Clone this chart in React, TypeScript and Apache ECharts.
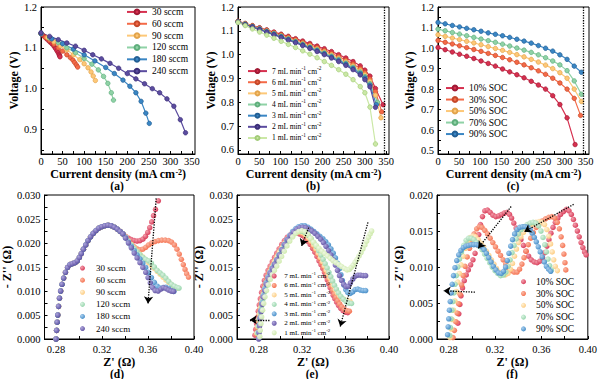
import React, { useEffect, useRef } from "react";
import * as echarts from "echarts";

const FONT = "Liberation Serif";

// ---------- colours ----------
const C = {
  crimson: ["#d6304f", "#f29aa8", "#a01a35"],
  orange: ["#f46a47", "#fbb5a0", "#c4482a"],
  lorange: ["#fdc878", "#fff0d2", "#e2a44c"],
  green: ["#8fd2a6", "#d8f2e0", "#5fae7c"],
  blue: ["#3a86c4", "#a6cdee", "#235f94"],
  purple: ["#5b4c9f", "#aca2da", "#3c2f78"],
  lgreen: ["#cbe8a6", "#f0f9e4", "#a2cb78"],
};

// ---------- (a) ----------
const aNames = ["30 sccm", "60 sccm", "90 sccm", "120 sccm", "180 sccm", "240 sccm"];
const a30 = [[0,1.135],[5,1.13],[10,1.125],[15,1.12],[20,1.115],[25,1.11],[30,1.104],[34,1.098],[37,1.093],[40,1.088],[42,1.084],[43,1.081],[44,1.078]];
const a60 = [[0,1.135],[10,1.126],[20,1.118],[30,1.109],[40,1.1],[50,1.092],[60,1.083],[68,1.076],[74,1.07],[78,1.064],[82,1.058],[85,1.053]];
const a90 = [[0,1.135],[15,1.125],[30,1.115],[45,1.105],[60,1.095],[75,1.083],[90,1.071],[100,1.061],[109,1.051],[116,1.041],[121,1.031],[126,1.02]];
const a120 = [[0,1.135],[20,1.124],[40,1.113],[60,1.1],[80,1.088],[100,1.074],[118,1.06],[133,1.046],[145,1.03],[155,1.013],[163,0.99],[168,0.972]];
const a180 = [[0,1.135],[25,1.122],[50,1.11],[75,1.097],[100,1.083],[125,1.068],[150,1.052],[170,1.037],[190,1.021],[206,1.006],[220,0.99],[232,0.969],[243,0.94],[251,0.915]];
const a240 = [[0,1.137],[20,1.128],[40,1.12],[60,1.112],[80,1.104],[100,1.094],[120,1.083],[140,1.073],[160,1.062],[180,1.05],[200,1.037],[220,1.024],[240,1.012],[258,1.0],[275,0.99],[292,0.975],[308,0.957],[323,0.924],[335,0.892]];

// ---------- (b) ----------
const bNames = ["7 mL min{s|-1} cm{s|-2}", "6 mL min{s|-1} cm{s|-2}", "5 mL min{s|-1} cm{s|-2}", "4 mL min{s|-1} cm{s|-2}", "3 mL min{s|-1} cm{s|-2}", "2 mL min{s|-1} cm{s|-2}", "1 mL min{s|-1} cm{s|-2}"];
const b7 = [[0,1.14],[17,1.131],[34,1.122],[51,1.113],[68,1.104],[85,1.095],[102,1.086],[119,1.077],[136,1.067],[153,1.057],[170,1.047],[187,1.036],[204,1.025],[221,1.013],[238,1.0],[255,0.986],[272,0.971],[289,0.953],[300,0.935],[312,0.91],[325,0.858],[343,0.79]];
const b6 = [[0,1.14],[17,1.13],[34,1.121],[51,1.111],[68,1.102],[85,1.092],[102,1.083],[119,1.073],[136,1.063],[153,1.052],[170,1.041],[187,1.03],[204,1.018],[221,1.005],[238,0.992],[255,0.977],[272,0.961],[289,0.942],[300,0.925],[312,0.898],[325,0.845],[340,0.76]];
const b5 = [[0,1.138],[17,1.129],[34,1.119],[51,1.109],[68,1.099],[85,1.089],[102,1.079],[119,1.069],[136,1.058],[153,1.047],[170,1.036],[187,1.024],[204,1.012],[221,0.999],[238,0.985],[255,0.97],[272,0.953],[289,0.934],[300,0.916],[312,0.888],[325,0.83],[338,0.735]];
const b4 = [[0,1.138],[17,1.128],[34,1.118],[51,1.108],[68,1.098],[85,1.088],[102,1.077],[119,1.066],[136,1.055],[153,1.044],[170,1.032],[187,1.02],[204,1.007],[221,0.994],[238,0.98],[255,0.964],[272,0.947],[289,0.927],[300,0.908],[312,0.878],[330,0.8]];
const b3 = [[0,1.137],[17,1.127],[34,1.117],[51,1.107],[68,1.096],[85,1.086],[102,1.075],[119,1.064],[136,1.053],[153,1.041],[170,1.029],[187,1.017],[204,1.004],[221,0.99],[238,0.976],[255,0.96],[272,0.942],[289,0.921],[300,0.902],[312,0.872],[327,0.79]];
const b2 = [[0,1.137],[17,1.126],[34,1.116],[51,1.105],[68,1.094],[85,1.083],[102,1.072],[119,1.061],[136,1.05],[153,1.038],[170,1.026],[187,1.013],[204,1.0],[221,0.986],[238,0.971],[255,0.955],[272,0.937],[289,0.915],[300,0.895],[312,0.865],[325,0.779]];
const b1 = [[0,1.135],[17,1.122],[34,1.108],[51,1.095],[68,1.082],[85,1.069],[102,1.056],[119,1.043],[136,1.03],[153,1.016],[170,1.002],[187,0.987],[204,0.971],[221,0.955],[238,0.937],[255,0.918],[272,0.895],[289,0.866],[300,0.84],[312,0.78],[325,0.625]];

// ---------- (c) ----------
const cNames = ["10% SOC", "30% SOC", "50% SOC", "70% SOC", "90% SOC"];
const c10 = [[0,1.003],[17,0.992],[34,0.981],[51,0.97],[68,0.96],[85,0.949],[102,0.937],[119,0.925],[136,0.912],[153,0.898],[170,0.884],[187,0.87],[204,0.855],[221,0.838],[238,0.82],[255,0.8],[272,0.768],[289,0.725],[306,0.66],[325,0.53]];
const c30 = [[0,1.037],[17,1.028],[34,1.02],[51,1.011],[68,1.002],[85,0.993],[102,0.984],[119,0.974],[136,0.964],[153,0.954],[170,0.943],[187,0.931],[204,0.918],[221,0.904],[238,0.889],[255,0.872],[272,0.853],[289,0.83],[306,0.8],[323,0.755],[338,0.672]];
const c50 = [[0,1.065],[17,1.057],[34,1.049],[51,1.041],[68,1.033],[85,1.025],[102,1.016],[119,1.007],[136,0.998],[153,0.989],[170,0.979],[187,0.968],[204,0.957],[221,0.945],[238,0.932],[255,0.917],[272,0.9],[289,0.88],[306,0.853],[323,0.8],[340,0.74]];
const c70 = [[0,1.092],[17,1.084],[34,1.076],[51,1.068],[68,1.06],[85,1.052],[102,1.044],[119,1.036],[136,1.028],[153,1.019],[170,1.01],[187,1.0],[204,0.99],[221,0.979],[238,0.967],[255,0.953],[272,0.937],[289,0.918],[306,0.89],[323,0.84],[340,0.775]];
const c90 = [[0,1.125],[17,1.118],[34,1.11],[51,1.103],[68,1.096],[85,1.089],[102,1.082],[119,1.074],[136,1.067],[153,1.06],[170,1.052],[187,1.043],[204,1.034],[221,1.024],[238,1.012],[255,0.999],[272,0.985],[289,0.967],[306,0.945],[323,0.912],[340,0.882]];
const maxCurrentLine = 345;

// ---------- (d) ----------
const dFront = [[0.28,0.0],[0.2805,0.0018],[0.281,0.0035],[0.2815,0.005],[0.2822,0.0068],[0.283,0.0085],[0.284,0.01],[0.2852,0.0114],[0.2866,0.0127],[0.2882,0.0139],[0.29,0.0149],[0.292,0.0155],[0.2942,0.0157],[0.2965,0.0159],[0.2985,0.0163],[0.3003,0.017],[0.302,0.0178],[0.3038,0.0187],[0.3058,0.0196],[0.3078,0.0205],[0.31,0.0213],[0.3123,0.022],[0.3147,0.0226],[0.3172,0.0231],[0.3198,0.0234],[0.3225,0.0236],[0.3252,0.0237],[0.328,0.0236],[0.3307,0.0233],[0.3333,0.0229],[0.3358,0.0224],[0.3382,0.0219]];
const d30Tail = [[0.3405,0.0214],[0.343,0.021],[0.3455,0.0207],[0.348,0.0205],[0.3505,0.0204],[0.353,0.0205],[0.3555,0.0208],[0.3578,0.0214],[0.3598,0.0222],[0.3615,0.0232],[0.3632,0.0244],[0.3648,0.0257],[0.3665,0.027],[0.369,0.0288]];
const d60Tail = [[0.3405,0.0212],[0.343,0.0205],[0.3455,0.0198],[0.348,0.0192],[0.3505,0.0188],[0.353,0.0186],[0.3555,0.0187],[0.358,0.0191],[0.3605,0.0196],[0.3632,0.02],[0.366,0.0203],[0.369,0.0205],[0.372,0.0206],[0.375,0.0206],[0.378,0.0205],[0.3805,0.0202],[0.383,0.0196],[0.3852,0.0187],[0.3872,0.0177],[0.389,0.0166],[0.3907,0.0155],[0.3922,0.0145],[0.3936,0.0136],[0.3952,0.0129]];
const d90Tail = [[0.3405,0.0212],[0.343,0.0204],[0.3455,0.0197],[0.348,0.019],[0.3505,0.0183],[0.353,0.0177],[0.3555,0.0171],[0.358,0.0165],[0.3605,0.0159],[0.363,0.0153],[0.3655,0.0147],[0.368,0.0141],[0.3705,0.0135],[0.373,0.0129],[0.3755,0.0123],[0.378,0.0118],[0.3805,0.0113],[0.383,0.0109],[0.3855,0.0106]];
const d120Tail = [[0.3405,0.0212],[0.343,0.0204],[0.3455,0.0196],[0.348,0.0189],[0.3505,0.0182],[0.353,0.0176],[0.3555,0.017],[0.358,0.0166],[0.3605,0.0163],[0.363,0.0158],[0.3655,0.015],[0.368,0.0143],[0.3705,0.0138],[0.373,0.0133],[0.3755,0.0127],[0.378,0.012],[0.3805,0.0114],[0.383,0.011],[0.3855,0.0107],[0.387,0.0106]];
const d180Tail = [[0.3405,0.0211],[0.343,0.0202],[0.3455,0.0193],[0.348,0.0184],[0.3505,0.0175],[0.353,0.0167],[0.3555,0.0158],[0.358,0.0149],[0.3605,0.0139],[0.363,0.0128],[0.3655,0.0118],[0.368,0.011],[0.3705,0.0106],[0.373,0.0107],[0.3755,0.0108],[0.378,0.0105],[0.3805,0.0101],[0.3825,0.0099]];
const d240Tail = [[0.3405,0.021],[0.343,0.02],[0.3455,0.019],[0.348,0.0179],[0.3505,0.0169],[0.353,0.0159],[0.3555,0.0149],[0.358,0.0139],[0.36,0.0128],[0.362,0.0117],[0.364,0.0107],[0.3662,0.0101],[0.3688,0.01],[0.3712,0.0104],[0.3735,0.0107],[0.3758,0.0105],[0.378,0.0102],[0.3802,0.01],[0.3822,0.0099]];
const dArrows = [[[0.3671, 0.0293], [0.36, 0.0074]]];

// ---------- (e) ----------
const e7 = [[0.2765,0.0008],[0.2772,0.002],[0.278,0.0032],[0.2788,0.0045],[0.2796,0.0058],[0.2805,0.0071],[0.2815,0.0084],[0.2826,0.0097],[0.2838,0.011],[0.2852,0.0122],[0.2868,0.0133],[0.2886,0.0143],[0.2905,0.0152],[0.2925,0.0161],[0.2945,0.017],[0.2966,0.0179],[0.2988,0.0188],[0.3012,0.0197],[0.3037,0.0205],[0.3063,0.0212],[0.309,0.0217],[0.3118,0.022],[0.3146,0.0221],[0.3174,0.0219],[0.32,0.0216],[0.3225,0.0211],[0.325,0.0204],[0.3274,0.0197],[0.3296,0.0189],[0.3316,0.0181],[0.3336,0.0172],[0.3355,0.0163],[0.3373,0.0155],[0.339,0.0147],[0.3405,0.0139],[0.3419,0.0131],[0.3432,0.0123],[0.3445,0.0115],[0.3458,0.0107],[0.3472,0.0099],[0.3486,0.0091],[0.3501,0.0084],[0.3517,0.0077],[0.3535,0.007],[0.3555,0.0064],[0.3577,0.0059],[0.36,0.0056],[0.362,0.0055]];
const e6 = [[0.2778,0.001],[0.2785,0.0023],[0.2793,0.0036],[0.2801,0.0049],[0.281,0.0062],[0.282,0.0075],[0.2831,0.0088],[0.2843,0.0101],[0.2857,0.0114],[0.2872,0.0126],[0.2889,0.0137],[0.2907,0.0147],[0.2927,0.0156],[0.2947,0.0165],[0.2968,0.0174],[0.299,0.0183],[0.3013,0.0192],[0.3037,0.02],[0.3063,0.0208],[0.309,0.0214],[0.3118,0.0219],[0.3146,0.0222],[0.3174,0.0222],[0.3202,0.022],[0.3228,0.0215],[0.3253,0.0209],[0.3277,0.0202],[0.33,0.0194],[0.3321,0.0186],[0.3341,0.0177],[0.336,0.0168],[0.3378,0.0159],[0.3395,0.0151],[0.3411,0.0142],[0.3426,0.0134],[0.344,0.0126],[0.3454,0.0118],[0.3468,0.011],[0.3482,0.0102],[0.3497,0.0094],[0.3512,0.0087],[0.3528,0.008],[0.3546,0.0073],[0.3566,0.0067],[0.3588,0.0062],[0.3612,0.0059],[0.3635,0.0058]];
const e5 = [[0.2783,0.0012],[0.2791,0.0026],[0.2799,0.004],[0.2808,0.0053],[0.2818,0.0066],[0.2829,0.008],[0.2841,0.0093],[0.2855,0.0106],[0.287,0.0118],[0.2887,0.013],[0.2905,0.0141],[0.2925,0.0151],[0.2946,0.0161],[0.2968,0.0171],[0.2991,0.0181],[0.3015,0.019],[0.304,0.0199],[0.3066,0.0207],[0.3093,0.0214],[0.3121,0.0219],[0.315,0.0222],[0.3178,0.0223],[0.3206,0.0221],[0.3233,0.0217],[0.3259,0.0211],[0.3284,0.0204],[0.3307,0.0196],[0.3329,0.0188],[0.335,0.0179],[0.337,0.017],[0.3389,0.0161],[0.3407,0.0152],[0.3424,0.0143],[0.344,0.0135],[0.3456,0.0127],[0.3472,0.0119],[0.3488,0.0111],[0.3505,0.0103],[0.3523,0.0096],[0.3543,0.009],[0.3565,0.0085],[0.359,0.0082],[0.3615,0.008],[0.364,0.0079]];
const e4 = [[0.2788,0.0013],[0.2796,0.0027],[0.2805,0.0041],[0.2815,0.0055],[0.2826,0.0069],[0.2838,0.0083],[0.2851,0.0097],[0.2866,0.011],[0.2882,0.0122],[0.29,0.0134],[0.2919,0.0145],[0.294,0.0155],[0.2962,0.0165],[0.2985,0.0175],[0.3009,0.0185],[0.3034,0.0194],[0.306,0.0203],[0.3087,0.0211],[0.3115,0.0217],[0.3144,0.0222],[0.3173,0.0224],[0.3202,0.0224],[0.323,0.0221],[0.3257,0.0216],[0.3283,0.0209],[0.3307,0.0201],[0.333,0.0193],[0.3352,0.0184],[0.3373,0.0175],[0.3393,0.0166],[0.3412,0.0157],[0.343,0.0148],[0.3447,0.0139],[0.3464,0.013],[0.3481,0.0121],[0.3498,0.0112],[0.3516,0.0104],[0.3535,0.0096],[0.3556,0.0089],[0.358,0.0083],[0.3605,0.0078],[0.363,0.0075],[0.3655,0.0074]];
const e3 = [[0.28,0.0002],[0.2802,0.0015],[0.2807,0.003],[0.2813,0.0045],[0.282,0.006],[0.2829,0.0075],[0.284,0.009],[0.2853,0.0104],[0.2868,0.0117],[0.2885,0.0129],[0.2904,0.0139],[0.2924,0.0148],[0.2944,0.0156],[0.2965,0.0165],[0.2987,0.0175],[0.301,0.0186],[0.3034,0.0197],[0.3059,0.0207],[0.3085,0.0216],[0.3112,0.0224],[0.314,0.023],[0.3168,0.0234],[0.3196,0.0236],[0.3224,0.0236],[0.3252,0.0233],[0.328,0.0229],[0.3308,0.0224],[0.3336,0.0219],[0.3364,0.0214],[0.3391,0.0209],[0.3417,0.0203],[0.3442,0.0196],[0.3465,0.0188],[0.3487,0.0179],[0.3507,0.0169],[0.3525,0.0158],[0.3542,0.0146],[0.3557,0.0134],[0.3571,0.0122],[0.3585,0.0112],[0.3601,0.0103],[0.362,0.0097],[0.3642,0.0095],[0.3665,0.0098],[0.3688,0.0103],[0.3712,0.0104],[0.3737,0.0102],[0.3762,0.0101],[0.3785,0.0101]];
const e2 = [[0.28,0.0],[0.2803,0.0013],[0.2808,0.0027],[0.2814,0.0042],[0.2822,0.0057],[0.2831,0.0072],[0.2842,0.0087],[0.2855,0.0101],[0.287,0.0114],[0.2887,0.0126],[0.2906,0.0137],[0.2926,0.0147],[0.2947,0.0156],[0.2969,0.0165],[0.2992,0.0175],[0.3016,0.0186],[0.3041,0.0197],[0.3067,0.0207],[0.3094,0.0216],[0.3122,0.0223],[0.315,0.0229],[0.3178,0.0232],[0.3206,0.0233],[0.3234,0.0232],[0.3262,0.0229],[0.329,0.0225],[0.3318,0.022],[0.3345,0.0214],[0.3371,0.0208],[0.3396,0.0201],[0.342,0.0193],[0.3443,0.0184],[0.3465,0.0175],[0.3486,0.0165],[0.3506,0.0154],[0.3525,0.0143],[0.3544,0.0132],[0.3563,0.0122],[0.3583,0.0114],[0.3604,0.0109],[0.3625,0.011],[0.3645,0.0117],[0.3667,0.0125],[0.369,0.0131],[0.3714,0.0133],[0.3738,0.0133],[0.3762,0.0132],[0.3785,0.0132]];
const e1 = [[0.281,0.0005],[0.2814,0.0018],[0.282,0.0032],[0.2827,0.0046],[0.2836,0.006],[0.2846,0.0074],[0.2858,0.0088],[0.2872,0.0101],[0.2888,0.0113],[0.2906,0.0124],[0.2925,0.0134],[0.2945,0.0143],[0.2966,0.0152],[0.2988,0.0162],[0.3011,0.0172],[0.3035,0.0183],[0.306,0.0194],[0.3086,0.0204],[0.3113,0.0213],[0.3141,0.022],[0.3169,0.0224],[0.3197,0.0226],[0.3225,0.0224],[0.3252,0.0218],[0.3278,0.021],[0.3304,0.0202],[0.333,0.0195],[0.3356,0.0189],[0.3382,0.0183],[0.3408,0.0178],[0.3434,0.0173],[0.346,0.0168],[0.3486,0.0163],[0.3512,0.0159],[0.3538,0.0155],[0.3564,0.0151],[0.359,0.0147],[0.3614,0.0144],[0.3634,0.0145],[0.3652,0.0149],[0.367,0.0154],[0.3688,0.016],[0.3706,0.0166],[0.3724,0.0173],[0.3742,0.018],[0.376,0.0188],[0.3778,0.0196],[0.3795,0.0204],[0.3811,0.0212],[0.3826,0.0219],[0.384,0.0225]];
const eArrows = [
  [[0.326, 0.0232], [0.3195, 0.0194]],
  [[0.3806, 0.0243], [0.3551, 0.0026]],
  [[0.2899, 0.004], [0.2718, 0.004]],
];

// ---------- (f) ----------
const f10 = [[0.288,0.0022],[0.2888,0.0035],[0.2897,0.0048],[0.2907,0.006],[0.292,0.0071],[0.2935,0.0081],[0.2952,0.0089],[0.297,0.0096],[0.299,0.0103],[0.301,0.011],[0.3028,0.0119],[0.3045,0.0131],[0.306,0.0145],[0.3075,0.0159],[0.3092,0.017],[0.3112,0.0178],[0.3135,0.0179],[0.3158,0.0176],[0.3182,0.0172],[0.3207,0.017],[0.3232,0.0171],[0.3257,0.0173],[0.3282,0.0175],[0.3305,0.0176],[0.3325,0.0173],[0.3343,0.0168],[0.3362,0.0161],[0.3382,0.0154],[0.3402,0.0146],[0.3423,0.0138],[0.3445,0.013],[0.3467,0.0122],[0.349,0.0115],[0.3513,0.011],[0.3538,0.0107],[0.3563,0.0106],[0.3587,0.0108],[0.361,0.0113],[0.363,0.012],[0.3648,0.0129],[0.3665,0.0138],[0.3682,0.0147],[0.37,0.0155],[0.372,0.0162],[0.3742,0.0168],[0.3765,0.0173],[0.379,0.0177],[0.3815,0.018],[0.3838,0.0178],[0.3858,0.0173],[0.3876,0.0166],[0.3893,0.0158],[0.391,0.015],[0.3926,0.0142],[0.3942,0.0134],[0.3957,0.0127],[0.3972,0.0121],[0.3985,0.0117]];
const f30 = [[0.2838,0.0002],[0.285,0.0012],[0.2862,0.0024],[0.2874,0.0036],[0.2886,0.0049],[0.2899,0.0062],[0.2912,0.0075],[0.2926,0.0088],[0.2942,0.0101],[0.296,0.0114],[0.298,0.0126],[0.3,0.0137],[0.302,0.0146],[0.3042,0.0153],[0.3065,0.0156],[0.3088,0.0155],[0.3112,0.0151],[0.3135,0.0146],[0.3158,0.014],[0.3181,0.0134],[0.3204,0.0128],[0.3226,0.0122],[0.3248,0.0116],[0.327,0.011],[0.3292,0.0104],[0.3315,0.0099],[0.334,0.0095],[0.3365,0.0093],[0.339,0.0093],[0.3412,0.0097],[0.3432,0.0104],[0.345,0.0113],[0.3468,0.0122],[0.3487,0.0131],[0.3508,0.014],[0.353,0.0148],[0.3555,0.0155],[0.358,0.016],[0.3607,0.0164],[0.3635,0.0167],[0.3663,0.0169],[0.369,0.017],[0.3715,0.0168],[0.3737,0.0162],[0.3755,0.0153],[0.377,0.0142],[0.3783,0.013],[0.3794,0.0118],[0.3803,0.0106],[0.381,0.0096]];
const f50 = [[0.2812,0.0002],[0.2822,0.0014],[0.2832,0.0027],[0.2843,0.004],[0.2854,0.0053],[0.2866,0.0066],[0.2879,0.0079],[0.2893,0.0091],[0.2908,0.0103],[0.2925,0.0115],[0.2944,0.0126],[0.2965,0.0135],[0.2987,0.0141],[0.301,0.0143],[0.3033,0.0142],[0.3056,0.0138],[0.3079,0.0133],[0.3102,0.0128],[0.3125,0.0122],[0.3147,0.0116],[0.3169,0.011],[0.3191,0.0104],[0.3213,0.0098],[0.3237,0.0093],[0.3262,0.009],[0.3288,0.0089],[0.3312,0.0091],[0.3333,0.0097],[0.3351,0.0105],[0.3368,0.0115],[0.3385,0.0125],[0.3403,0.0134],[0.3423,0.0142],[0.3445,0.0148],[0.347,0.0153],[0.3497,0.0157],[0.3525,0.016],[0.3553,0.0162],[0.358,0.0163],[0.3605,0.0162],[0.3627,0.0159],[0.3647,0.0152],[0.3664,0.0143],[0.3679,0.0132],[0.3693,0.0121],[0.3706,0.011],[0.372,0.0101],[0.3738,0.0095]];
const f70 = [[0.281,0.0005],[0.2815,0.0016],[0.2821,0.0028],[0.2828,0.004],[0.2836,0.0052],[0.2845,0.0064],[0.2855,0.0076],[0.2866,0.0088],[0.2879,0.01],[0.2894,0.0111],[0.2911,0.0121],[0.293,0.013],[0.2951,0.0137],[0.2973,0.014],[0.2996,0.014],[0.3019,0.0138],[0.3042,0.0134],[0.3065,0.0129],[0.3088,0.0124],[0.311,0.0118],[0.3132,0.0112],[0.3154,0.0106],[0.3176,0.01],[0.3199,0.0095],[0.3223,0.0091],[0.3248,0.0088],[0.3272,0.0089],[0.3294,0.0093],[0.3313,0.0101],[0.333,0.011],[0.3347,0.012],[0.3364,0.013],[0.3382,0.0139],[0.3402,0.0146],[0.3425,0.0152],[0.345,0.0156],[0.3476,0.0159],[0.3502,0.0161],[0.3528,0.0162],[0.3553,0.0161],[0.3576,0.0157],[0.3596,0.015],[0.3614,0.0141],[0.3629,0.0131],[0.3643,0.0121],[0.3657,0.0111],[0.3671,0.0102],[0.3686,0.0096]];
const f90 = [[0.2791,0.0006],[0.2796,0.0017],[0.2801,0.0028],[0.2807,0.004],[0.2814,0.0052],[0.2822,0.0064],[0.2831,0.0076],[0.2842,0.0088],[0.2855,0.0099],[0.287,0.0109],[0.2887,0.0117],[0.2906,0.0123],[0.2927,0.0127],[0.2949,0.0129],[0.2972,0.013],[0.2995,0.0131],[0.3018,0.0131],[0.3041,0.0131],[0.3063,0.013],[0.3085,0.0128],[0.3106,0.0124],[0.3126,0.0119],[0.3146,0.0113],[0.3166,0.0107],[0.3186,0.0101],[0.3208,0.0096],[0.3231,0.0092],[0.3254,0.0091],[0.3274,0.0094],[0.3291,0.01],[0.3306,0.0109],[0.332,0.0119],[0.3335,0.0129],[0.3351,0.0138],[0.3369,0.0146],[0.339,0.0152],[0.3413,0.0155],[0.3437,0.0156],[0.346,0.0156],[0.3482,0.0155],[0.3502,0.0152],[0.3521,0.0147],[0.3539,0.0141],[0.3556,0.0135],[0.3573,0.0128],[0.359,0.0121],[0.3607,0.0114],[0.3625,0.0107],[0.3643,0.0101],[0.3662,0.0097],[0.368,0.0094]];
const fArrows = [
  [[0.3339, 0.0184], [0.3055, 0.0126]],
  [[0.3878, 0.0187], [0.3453, 0.0149]],
  [[0.3027, 0.0065], [0.2757, 0.0067]],
];

// ---------- ticks ----------
const topXLabels = [0, 50, 100, 150, 200, 250, 300, 350];
const topXTicks = [0, 25, 50, 75, 100, 125, 150, 175, 200, 225, 250, 275, 300, 325, 350];
const aYLabels = [0.9, 1.0, 1.1, 1.2];
const aYTicks = [0.85, 0.9, 0.95, 1.0, 1.05, 1.1, 1.15, 1.2];
const bYLabels = [0.6, 0.7, 0.8, 0.9, 1.0, 1.1, 1.2];
const bYTicks = [0.6, 0.65, 0.7, 0.75, 0.8, 0.85, 0.9, 0.95, 1.0, 1.05, 1.1, 1.15, 1.2];
const cYLabels = [0.5, 0.6, 0.7, 0.8, 0.9, 1.0, 1.1, 1.2];
const cYTicks = [0.5, 0.55, 0.6, 0.65, 0.7, 0.75, 0.8, 0.85, 0.9, 0.95, 1.0, 1.05, 1.1, 1.15, 1.2];
const zXLabels = [0.28, 0.32, 0.36, 0.4];
const zXTicks = [0.28, 0.3, 0.32, 0.34, 0.36, 0.38, 0.4];
const dYLabels = [0, 0.005, 0.01, 0.015, 0.02, 0.025, 0.03];
const dYTicks = [0, 0.0025, 0.005, 0.0075, 0.01, 0.0125, 0.015, 0.0175, 0.02, 0.0225, 0.025, 0.0275, 0.03];
const fYLabels = [0, 0.005, 0.01, 0.015, 0.02];
const fYTicks = [0, 0.0025, 0.005, 0.0075, 0.01, 0.0125, 0.015, 0.0175, 0.02];

const NAME_X = 12;
const NAME_Y = 12;
const supRich = {
  s: { fontFamily: FONT, fontSize: 8, fontWeight: "bold", color: "#000", verticalAlign: "top", lineHeight: 9 },
};

function xAx(gi: number, min: number, max: number, labels: number[], ticks: number[], fmt: (v: number) => string, name: string, nameGap: number, margin: number) {
  return {
    type: "value", gridIndex: gi, min, max,
    axisLine: { show: true, onZero: false, lineStyle: { color: "#000", width: 1 } },
    axisTick: { show: true, inside: true, length: 3, customValues: ticks, lineStyle: { color: "#000", width: 1 } },
    axisLabel: { show: true, customValues: labels, formatter: fmt, fontFamily: FONT, fontSize: 10.5, color: "#000", margin },
    splitLine: { show: false },
    name, nameLocation: "middle", nameGap,
    nameTextStyle: { fontFamily: FONT, fontSize: NAME_X, fontWeight: "bold", color: "#000", lineHeight: 10, rich: supRich },
  };
}
function yAx(gi: number, min: number, max: number, labels: number[], ticks: number[], fmt: (v: number) => string, name: string, nameGap: number) {
  return {
    type: "value", gridIndex: gi, min, max,
    axisLine: { show: true, onZero: false, lineStyle: { color: "#000", width: 1 } },
    axisTick: { show: true, inside: true, length: 3, customValues: ticks, lineStyle: { color: "#000", width: 1 } },
    axisLabel: { show: true, customValues: labels, formatter: fmt, fontFamily: FONT, fontSize: 10.5, color: "#000", margin: 4 },
    splitLine: { show: false },
    name, nameLocation: "middle", nameGap,
    nameTextStyle: { fontFamily: FONT, fontSize: NAME_Y, fontWeight: "bold", color: "#000" },
  };
}

const SEP = "#";
function lineSeries(prefix: string, name: string, gi: number, data: number[][], col: string[]) {
  return {
    type: "line", name: prefix + SEP + name, xAxisIndex: gi, yAxisIndex: gi, data,
    symbol: "circle", symbolSize: 4.5, showSymbol: true,
    lineStyle: { color: col[0], width: 1.2 },
    itemStyle: { color: col[0], borderColor: col[2], borderWidth: 0.7 },
    emphasis: { disabled: true },
  };
}
function dotSeries(prefix: string, name: string, gi: number, data: number[][], col: string[]) {
  return {
    type: "scatter", name: prefix + SEP + name, xAxisIndex: gi, yAxisIndex: gi, data,
    symbol: "circle", symbolSize: 5.5,
    itemStyle: {
      color: { type: "radial", x: 0.35, y: 0.35, r: 0.7, colorStops: [{ offset: 0, color: col[1] }, { offset: 1, color: col[0] }] },
      opacity: 0.95,
    },
    emphasis: { disabled: true },
  };
}
function arrowSeries(gi: number, arrows: number[][][]) {
  return {
    type: "line", name: "arrows" + gi, xAxisIndex: gi, yAxisIndex: gi, data: [arrows[0][0]],
    symbol: "none", lineStyle: { width: 0 }, silent: true,
    markLine: {
      silent: true, symbol: ["none", "arrow"], symbolSize: 7,
      label: { show: false },
      lineStyle: { type: "dotted", color: "#000", width: 1.3 },
      emphasis: { disabled: true },
      data: arrows.map((a) => [{ coord: a[0] }, { coord: a[1] }]),
    },
  };
}
function vLineSeries(gi: number, x: number) {
  return {
    type: "line", name: "vline" + gi, xAxisIndex: gi, yAxisIndex: gi, data: [],
    symbol: "none", silent: true,
    markLine: {
      silent: true, symbol: ["none", "none"], label: { show: false },
      lineStyle: { type: "dotted", color: "#000", width: 1.3 },
      emphasis: { disabled: true },
      data: [{ xAxis: x }],
    },
  };
}

const legendFmt = (n: string) => n.split(SEP)[1];
function legendCfg(prefix: string, names: string[], left: number, top: number, w: number, h: number, fontSize: number, lh: number, icon?: string) {
  return {
    show: true, orient: "vertical", left, top, padding: 0, itemGap: 0,
    itemWidth: w, itemHeight: h, selectedMode: false, icon,
    data: names.map((n) => prefix + SEP + n),
    formatter: legendFmt,
    textStyle: { fontFamily: FONT, fontSize, color: "#000", lineHeight: lh, rich: { s: { fontFamily: FONT, fontSize: fontSize * 0.7, color: "#000", verticalAlign: "top", lineHeight: lh - 2 } } },
  };
}

export default function App() {
  const ref = useRef<HTMLDivElement>(null);
  useEffect(() => {
    if (!ref.current) return;
    const chart = echarts.init(ref.current, undefined, { renderer: "svg" });
    const f1 = (v: number) => v.toFixed(1);
    const f0 = (v: number) => String(Math.round(v));
    const f2 = (v: number) => v.toFixed(2);
    const f3 = (v: number) => v.toFixed(3);
    const cdName = "Current density (mA cm{s|-2})";
    const zName = "Z' (Ω)";
    const zzName = "- Z'' (Ω)";
    const colA = [C.crimson, C.orange, C.lorange, C.green, C.blue, C.purple];
    const colB = [C.crimson, C.orange, C.lorange, C.green, C.blue, C.purple, C.lgreen];
    const colC = [C.crimson, C.orange, C.lorange, C.green, C.blue];
    const aData = [a30, a60, a90, a120, a180, a240];
    const bData = [b7, b6, b5, b4, b3, b2, b1];
    const cData = [c10, c30, c50, c70, c90];
    const dData = [d30Tail, d60Tail, d90Tail, d120Tail, d180Tail, d240Tail].map((t) => dFront.concat(t));
    const eData = [e7, e6, e5, e4, e3, e2, e1];
    const fData = [f10, f30, f50, f70, f90];

    const series: any[] = [];
    aNames.forEach((n, i) => series.push(lineSeries("a", n, 0, aData[i], colA[i])));
    bNames.forEach((n, i) => series.push(lineSeries("b", n, 1, bData[i], colB[i])));
    series.push(vLineSeries(1, maxCurrentLine));
    cNames.forEach((n, i) => series.push(lineSeries("c", n, 2, cData[i], colC[i])));
    series.push(vLineSeries(2, maxCurrentLine));
    aNames.forEach((n, i) => series.push(dotSeries("d", n, 3, dData[i], colA[i])));
    series.push(arrowSeries(3, dArrows));
    bNames.forEach((n, i) => series.push(dotSeries("e", n, 4, eData[i], colB[i])));
    series.push(arrowSeries(4, eArrows));
    cNames.forEach((n, i) => series.push(dotSeries("f", n, 5, fData[i], colC[i])));
    series.push(arrowSeries(5, fArrows));

    const gridStyle = { show: true, borderColor: "#000", borderWidth: 1, containLabel: false };
    const panelLabel = (t: string, x: number, y: number) => ({
      type: "text", x, y, silent: true,
      style: { text: t, fontFamily: FONT, fontSize: 11.5, fontWeight: "bold", fill: "#000", align: "center", verticalAlign: "middle" },
    });

    chart.setOption({
      animation: false,
      backgroundColor: "#fff",
      grid: [
        { ...gridStyle, left: 41, top: 7, width: 154, height: 147 },
        { ...gridStyle, left: 238, top: 7, width: 151, height: 147 },
        { ...gridStyle, left: 438, top: 7, width: 151, height: 147 },
        { ...gridStyle, left: 42, top: 195, width: 152, height: 144 },
        { ...gridStyle, left: 237, top: 195, width: 152, height: 144 },
        { ...gridStyle, left: 437, top: 195, width: 152, height: 144 },
      ],
      xAxis: [
        xAx(0, 0, 357, topXLabels, topXTicks, f0, cdName, 11, 2),
        xAx(1, 0, 357, topXLabels, topXTicks, f0, cdName, 11, 2),
        xAx(2, 0, 358, topXLabels, topXTicks, f0, cdName, 11, 2),
        xAx(3, 0.27, 0.4, zXLabels, zXTicks, f2, zName, 14, 5),
        xAx(4, 0.26, 0.4, zXLabels, zXTicks, f2, zName, 14, 5),
        xAx(5, 0.27, 0.4, zXLabels, zXTicks, f2, zName, 14, 5),
      ],
      yAxis: [
        yAx(0, 0.84, 1.2, aYLabels, aYTicks, f1, "Voltage (V)", 20),
        yAx(1, 0.583, 1.2, bYLabels, bYTicks, f1, "Voltage (V)", 19),
        yAx(2, 0.484, 1.2, cYLabels, cYTicks, f1, "Voltage (V)", 22),
        yAx(3, 0, 0.03, dYLabels, dYTicks, f3, zzName, 27),
        yAx(4, 0, 0.03, dYLabels, dYTicks, f3, zzName, 27),
        yAx(5, 0, 0.02, fYLabels, fYTicks, f3, zzName, 27),
      ],
      legend: [
        legendCfg("a", aNames, 126, 6, 20, 6, 9.5, 11.85),
        legendCfg("b", bNames, 247, 65.5, 19, 5, 7.5, 11.15),
        legendCfg("c", cNames, 445, 82.3, 18, 6, 9.5, 11.5),
        legendCfg("d", aNames, 80, 262, 16.8, 5, 9, 12.1, "circle"),
        legendCfg("e", bNames, 271.7, 271.3, 10, 5, 7, 9.45, "circle"),
        legendCfg("f", cNames, 521, 275.8, 14.8, 5, 9.5, 11.8, "circle"),
      ],
      graphic: [
        panelLabel("(a)", 117, 186),
        panelLabel("(b)", 313, 186),
        panelLabel("(c)", 513, 186),
        panelLabel("(d)", 117, 373.5),
        panelLabel("(e)", 312, 373.5),
        panelLabel("(f)", 512, 373.5),
      ],
      series,
    });
    return () => chart.dispose();
  }, []);
  return <div ref={ref} style={{ width: 600, height: 379, position: "absolute", left: 0, top: 0 }} />;
}
